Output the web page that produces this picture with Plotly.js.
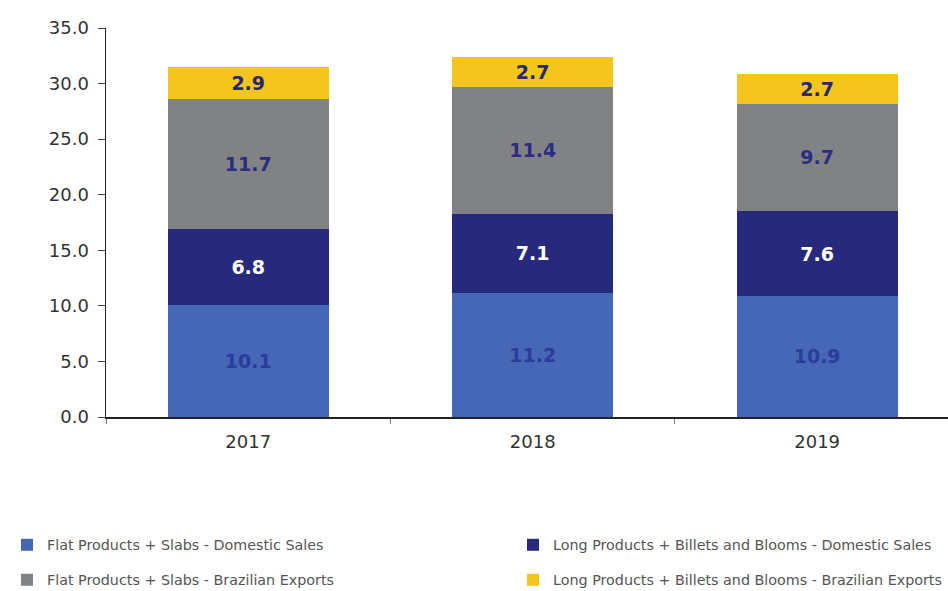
<!DOCTYPE html>
<html>
<head>
<meta charset="utf-8">
<script src="https://cdn.plot.ly/plotly-3.0.1.min.js"></script>
<style>
  body { margin: 0; background: #fff; }
  #chart { width: 948px; height: 591px; }
</style>
</head>
<body>
<div id="chart"></div>
<script>
// Sales volumes by year (million t)
var years = ['2017', '2018', '2019'];
var flatDomestic = [10.1, 11.2, 10.9];
var longDomestic = [6.8, 7.1, 7.6];
var flatExports = [11.7, 11.4, 9.7];
var longExports = [2.9, 2.7, 2.7];

var names = [
  'Flat Products + Slabs - Domestic Sales',
  'Long Products + Billets and Blooms - Domestic Sales',
  'Flat Products + Slabs - Brazilian Exports',
  'Long Products + Billets and Blooms - Brazilian Exports'
];

var FONT = 'DejaVu Sans, Verdana, sans-serif';

function barTrace(vals, name, colour, textColour, legend) {
  return {
    type: 'bar',
    x: years,
    y: vals,
    name: name,
    legend: legend,
    marker: { color: colour },
    text: vals.map(function (v) { return '<b>' + v.toFixed(1) + '</b>'; }),
    textposition: 'inside',
    insidetextanchor: 'middle',
    textangle: 0,
    textfont: { family: FONT, size: 19, color: textColour },
    hoverinfo: 'skip'
  };
}

var data = [
  barTrace(flatDomestic, names[0], '#4567b5', '#2c3c9c', 'legend'),
  barTrace(longDomestic, names[1], '#27297c', '#ffffff', 'legend2'),
  barTrace(flatExports, names[2], '#818284', '#2a2e82', 'legend3'),
  barTrace(longExports, names[3], '#f4c51c', '#25296e', 'legend4')
];

// one legend per entry so each can sit where the reference puts it
function legendAt(px, py) {
  return {
    orientation: 'h',
    xref: 'container',
    yref: 'container',
    x: px / 948,
    y: 1 - py / 591,
    xanchor: 'left',
    yanchor: 'middle',
    itemwidth: 30,
    font: { family: FONT, size: 14.3, color: '#555' },
    bgcolor: 'rgba(0,0,0,0)'
  };
}

var layout = {
  width: 948,
  height: 591,
  margin: { l: 106, r: 0, t: 28, b: 174 },
  paper_bgcolor: '#fff',
  plot_bgcolor: '#fff',
  barmode: 'stack',
  bargap: 0.435,
  font: { family: FONT, size: 18, color: '#333' },
  xaxis: {
    type: 'category',
    range: [-0.5, 2.46],
    showline: true,
    linecolor: '#222',
    linewidth: 1.5,
    ticks: 'outside',
    tickson: 'boundaries',
    ticklen: 5,
    tickcolor: '#777',
    ticklabelstandoff: 8,
    showgrid: false,
    tickfont: { family: FONT, size: 18, color: '#333' }
  },
  yaxis: {
    range: [0, 35],
    dtick: 5,
    tickformat: '.1f',
    showline: true,
    linecolor: '#222',
    linewidth: 1.5,
    ticks: 'outside',
    ticklen: 7,
    tickcolor: '#444',
    ticklabelstandoff: 5,
    showgrid: false,
    zeroline: false,
    tickfont: { family: FONT, size: 18, color: '#333' }
  },
  legend: legendAt(7, 545),
  legend2: legendAt(513, 545),
  legend3: legendAt(7, 580),
  legend4: legendAt(513, 580),
  showlegend: true
};

Plotly.newPlot('chart', data, layout, { displayModeBar: false, staticPlot: true });
</script>
</body>
</html>
